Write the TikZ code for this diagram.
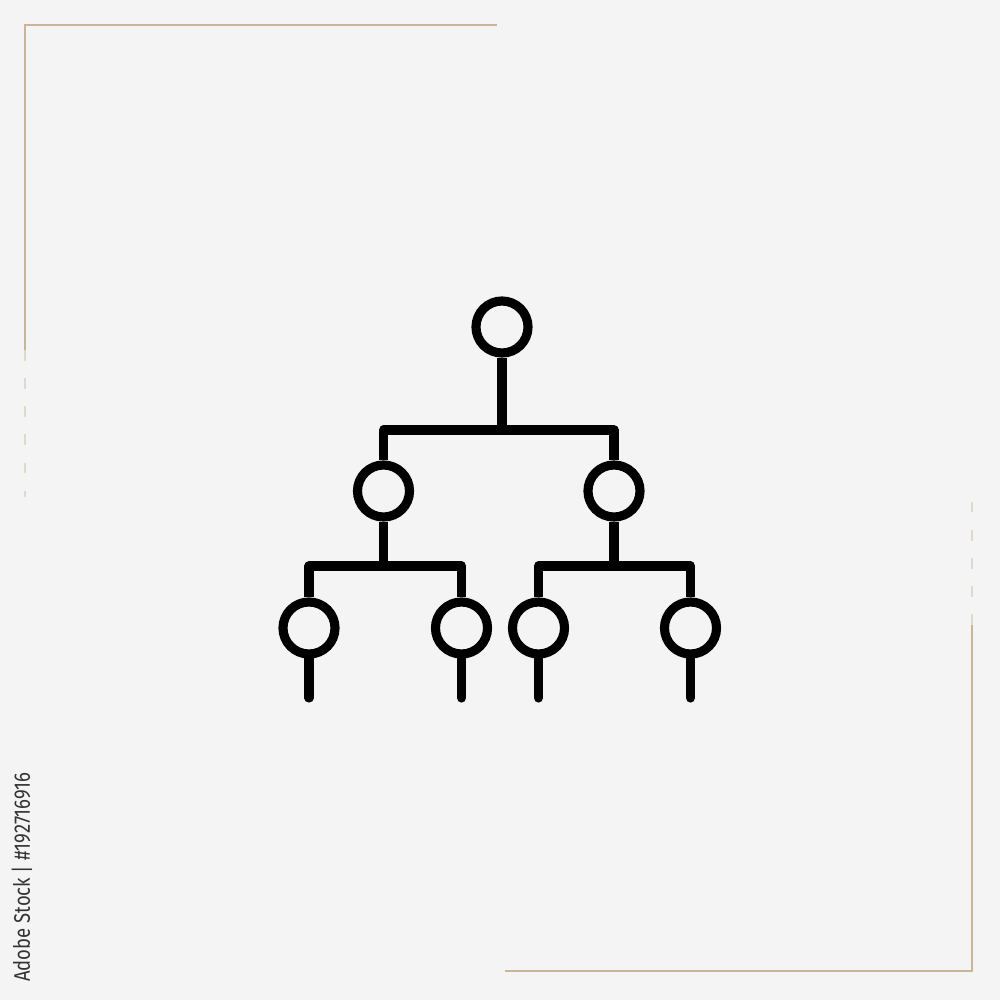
\documentclass[tikz,border=0pt]{standalone}
\usepackage{fontspec}
\setsansfont{Fira Sans}
\definecolor{bgc}{HTML}{F4F4F4}
\definecolor{framec}{HTML}{C8B797}
\definecolor{idc}{HTML}{333333}
\begin{document}
\begin{tikzpicture}[x=0.01cm,y=-0.01cm,
  treenode/.style={circle,draw=black,line width=2.6pt,minimum size=0.52cm,inner sep=0pt,fill=none},
  link/.style={draw=black,line width=2.6pt,line join=round},
  tail/.style={draw=black,line width=2.6pt,line cap=round},
  frameline/.style={draw=framec,line width=0.6pt},
  fadeline/.style={draw=framec,line width=0.5pt,dash pattern=on 3pt off 5pt,opacity=0.45}]
\fill[bgc] (0,0) rectangle (1000,1000);
\useasboundingbox (0,0) rectangle (1000,1000);
% frame
\draw[frameline] (25,350) -- (25,25) -- (497,25);
\draw[fadeline] (25,350) -- (25,497);
\draw[frameline] (505,971) -- (972,971) -- (972,625);
\draw[fadeline] (972,625) -- (972,497);
% id text
\node[rotate=90,text=idc,font=\sffamily\fontsize{6.4}{8}\selectfont,inner sep=0pt] (idtext) at (22,877) {\scalebox{0.82}[1]{Adobe Stock | \#192716916}};
% tree nodes
\node[treenode] (root) at (502,327) {};
\node[treenode] (L) at (383.5,491) {};
\node[treenode] (R) at (614,491) {};
\node[treenode] (LL) at (309,628) {};
\node[treenode] (LR) at (461.5,628) {};
\node[treenode] (RL) at (538.5,628) {};
\node[treenode] (RR) at (690.5,628) {};
% bar levels
\coordinate (bar1) at (502,430);
\coordinate (barL) at (383.5,566);
\coordinate (barR) at (614,566);
% connectors
\draw[link] (root.south) -- (bar1);
\draw[link] (L.north) -- (L.north |- bar1) -- (R.north |- bar1) -- (R.north);
\draw[link] (L.south) -- (barL);
\draw[link] (LL.north) -- (LL.north |- barL) -- (LR.north |- barL) -- (LR.north);
\draw[link] (R.south) -- (barR);
\draw[link] (RL.north) -- (RL.north |- barR) -- (RR.north |- barR) -- (RR.north);
% tails
\coordinate (tLL) at (309,698);
\coordinate (tLR) at (461.5,698);
\coordinate (tRL) at (538.5,698);
\coordinate (tRR) at (690.5,698);
\draw[tail] (LL.south) -- (tLL);
\draw[tail] (LR.south) -- (tLR);
\draw[tail] (RL.south) -- (tRL);
\draw[tail] (RR.south) -- (tRR);
\end{tikzpicture}
\end{document}
